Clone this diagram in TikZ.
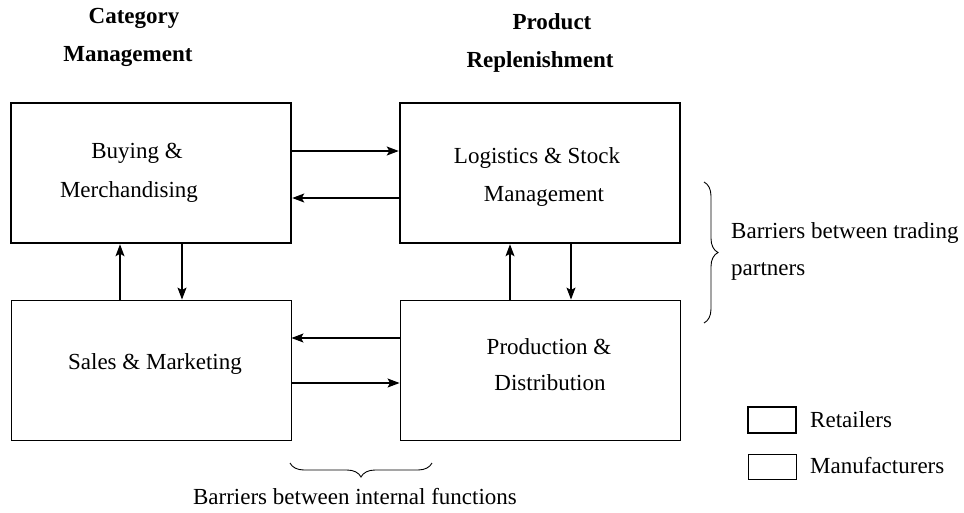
\documentclass[tikz,border=0pt]{standalone}
\usepackage{fontspec}
\setmainfont{Liberation Serif}
\usetikzlibrary{arrows.meta,decorations.pathreplacing}
\begin{document}
\begin{tikzpicture}[x=1pt,y=-1pt,
  retail/.style={draw,line width=2.5pt,minimum width=280pt,minimum height=140pt,inner sep=0pt},
  manuf/.style={draw,line width=0.9pt,minimum width=280pt,minimum height=140pt,inner sep=0pt},
  lbl/.style={font=\fontsize{23}{28}\selectfont,anchor=base,inner sep=0pt},
  lblw/.style={lbl,anchor=base west},
  ttl/.style={lbl,font=\fontsize{23}{28}\selectfont\bfseries},
  arr/.style={line width=1.1pt,-{Stealth[length=12pt,width=9pt,inset=2.5pt]}},
  brc/.style={decorate,decoration={brace,amplitude=14pt},line width=0.9pt}]
\useasboundingbox (0,0) rectangle (964,512);
% boxes
\node[retail] (bm) at (151,173) {};
\node[retail] (ls) at (540,173) {};
\node[manuf] (sm) at (151,370) {};
\node[manuf] (pd) at (540,370) {};
% box texts
\node[lbl] (t1) at (137,158) {Buying \&};
\node[lbl] (t2) at (129,197) {Merchandising};
\node[lbl] (t3) at (537,163) {Logistics \& Stock};
\node[lbl] (t4) at (544,201) {Management};
\node[lbl] (t5) at (155,369) {Sales \& Marketing};
\node[lbl] (t6) at (549,354) {Production \&};
\node[lbl] (t7) at (550,390) {Distribution};
% titles
\node[ttl] (c1) at (134,23) {Category};
\node[ttl] (c2) at (128,61) {Management};
\node[ttl] (p1) at (552,29) {Product};
\node[ttl] (p2) at (540,67) {Replenishment};
% connectors
\coordinate (h1) at (0,151);
\coordinate (h2) at (0,198);
\coordinate (h3) at (0,338);
\coordinate (h4) at (0,383);
\coordinate (v1) at (120,0);
\coordinate (v2) at (182,0);
\coordinate (v3) at (510,0);
\coordinate (v4) at (571,0);
\draw[arr] (bm.east |- h1) -- (ls.west |- h1);
\draw[arr] (ls.west |- h2) -- (bm.east |- h2);
\draw[arr] (pd.west |- h3) -- (sm.east |- h3);
\draw[arr] (sm.east |- h4) -- (pd.west |- h4);
\draw[arr] (sm.north -| v1) -- (bm.south -| v1);
\draw[arr] (bm.south -| v2) -- (sm.north -| v2);
\draw[arr] (pd.north -| v3) -- (ls.south -| v3);
\draw[arr] (ls.south -| v4) -- (pd.north -| v4);
% braces
\draw[brc] (704,182) -- (704,323);
\node[lblw] (b1) at (731,238) {Barriers between trading};
\node[lblw] (b2) at (731,275) {partners};
\draw[brc] (432,463) -- (290,463);
\node[lbl] (b3) at (355,504) {Barriers between internal functions};
% legend
\node[retail,minimum width=48pt,minimum height=26pt,line width=2.2pt] (lr) at (772,420) {};
\node[manuf,minimum width=48pt,minimum height=25pt] (lm) at (772,466.5) {};
\node[lblw] (l1) at (810,427) {Retailers};
\node[lblw] (l2) at (810,473) {Manufacturers};
\end{tikzpicture}
\end{document}
